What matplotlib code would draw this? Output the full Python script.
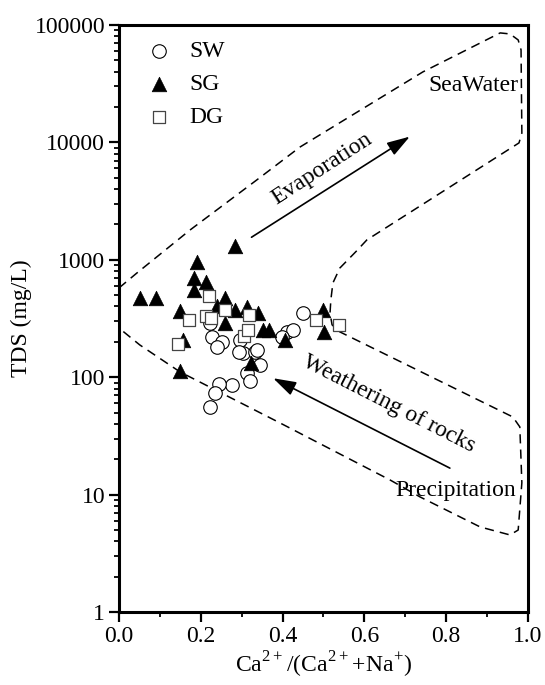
import matplotlib
matplotlib.use('Agg')
import matplotlib.pyplot as plt
from matplotlib.ticker import FuncFormatter, LogLocator, MultipleLocator, NullFormatter

plt.rcParams['font.family'] = ['Liberation Serif', 'DejaVu Serif']
plt.rcParams['mathtext.fontset'] = 'custom'
plt.rcParams['mathtext.rm'] = 'Liberation Serif'
plt.rcParams['font.size'] = 17

# surface water
SW_X = [0.449, 0.410, 0.426, 0.398, 0.222, 0.227, 0.251, 0.239, 0.296, 0.303, 0.294,
        0.333, 0.345, 0.312, 0.320, 0.276, 0.244, 0.235, 0.222, 0.337]
SW_Y = [350, 244, 252, 221, 290, 221, 201, 182, 207, 161, 165,
        165, 127, 109, 92, 86, 87, 73, 56, 171]

# shallow groundwater
SG_X = [0.051, 0.090, 0.190, 0.284, 0.184, 0.213, 0.183, 0.148, 0.259, 0.239, 0.284,
        0.312, 0.341, 0.259, 0.353, 0.368, 0.157, 0.323, 0.149, 0.406, 0.500, 0.501]
SG_Y = [470, 470, 960, 1300, 695, 650, 553, 369, 470, 404, 373,
        399, 350, 291, 252, 252, 207, 133, 112, 207, 373, 244]

# deep groundwater
DG_X = [0.221, 0.172, 0.213, 0.225, 0.260, 0.318, 0.306, 0.316, 0.144, 0.482, 0.538]
DG_Y = [495, 307, 332, 318, 373, 339, 224, 252, 191, 307, 279]

# Gibbs boundary (dashed envelope)
ENV_X = [0.0, 0.043, 0.174, 0.337, 0.443, 0.743, 0.932, 0.956, 0.976, 0.983, 0.985, 0.978,
         0.606, 0.580, 0.540, 0.523, 0.518, 0.516, 0.521, 0.540, 0.963, 0.980, 0.985,
         0.976, 0.956, 0.883, 0.736, 0.663, 0.394, 0.149, 0.051, 0.0]
ENV_Y = [575, 767, 1795, 4786, 9140, 39800, 85500, 83800, 74500, 61300, 12000, 9890,
         1475, 1180, 850, 634, 455, 352, 279, 243, 45.8, 37.7, 12.6,
         4.99, 4.53, 5.30, 9.55, 13.3, 40.7, 111, 188, 262]

EVAP_ARROW = [(0.324, 1555), (0.711, 11190)]
WEATHER_ARROW = [(0.809, 16.8), (0.377, 97.9)]

fig = plt.figure(figsize=(5.45, 6.85), dpi=100)
ax = fig.add_axes([0.2183, 0.1066, 0.7505, 0.857])

ax.plot(ENV_X, ENV_Y, color='black', lw=1.1, dashes=(6, 4), zorder=1)

ax.scatter(SW_X, SW_Y, s=95, marker='o', facecolor='white', edgecolor='black',
           linewidths=0.8, label='SW', zorder=3)
ax.scatter(SG_X, SG_Y, s=110, marker='^', facecolor='black', edgecolor='black',
           linewidths=0.5, label='SG', zorder=4)
ax.scatter(DG_X, DG_Y, s=85, marker='s', facecolor='white', edgecolor='#444444',
           linewidths=0.9, label='DG', zorder=5)

arrow_kw = dict(arrowstyle='-|>,head_length=0.7,head_width=0.22', color='black',
                lw=1.2, mutation_scale=20, shrinkA=0, shrinkB=0)
ax.annotate('', xy=EVAP_ARROW[1], xytext=EVAP_ARROW[0], arrowprops=arrow_kw, zorder=2)
ax.annotate('', xy=WEATHER_ARROW[1], xytext=WEATHER_ARROW[0], arrowprops=arrow_kw, zorder=2)

ax.text(0.496, 5930, 'Evaporation', rotation=33, rotation_mode='anchor',
        ha='center', va='center')
ax.text(0.660, 59, 'Weathering of rocks', rotation=-27, rotation_mode='anchor',
        ha='center', va='center')
ax.text(0.866, 30200, 'SeaWater', ha='center', va='center')
ax.text(0.822, 10.9, 'Precipitation', ha='center', va='center')

ax.set_yscale('log')
ax.set_xlim(0, 1)
ax.set_ylim(1, 100000)
ax.xaxis.set_major_locator(MultipleLocator(0.2))
ax.xaxis.set_minor_locator(MultipleLocator(0.1))
ax.xaxis.set_major_formatter(FuncFormatter(lambda v, p: f'{v:.1f}'))
ax.yaxis.set_major_locator(LogLocator(base=10, numticks=10))
ax.yaxis.set_minor_locator(LogLocator(base=10, subs=range(2, 10), numticks=10))
ax.yaxis.set_major_formatter(FuncFormatter(lambda v, p: f'{v:.0f}'))
ax.yaxis.set_minor_formatter(NullFormatter())
ax.tick_params(which='major', direction='out', length=7, width=1.6, pad=3)
ax.tick_params(which='minor', direction='out', length=3.5, width=1.3)
for sp in ax.spines.values():
    sp.set_linewidth(2.2)

ax.set_xlabel(r'Ca$^{2+}$/(Ca$^{2+}$+Na$^{+}$)', labelpad=2)
ax.set_ylabel('TDS (mg/L)', labelpad=2)

ax.legend(loc='upper left', frameon=False, bbox_to_anchor=(0.04, 0.99),
          handletextpad=0.7, labelspacing=0.5, borderaxespad=0, handlelength=1.2)

fig.savefig('out.png', dpi=100)
